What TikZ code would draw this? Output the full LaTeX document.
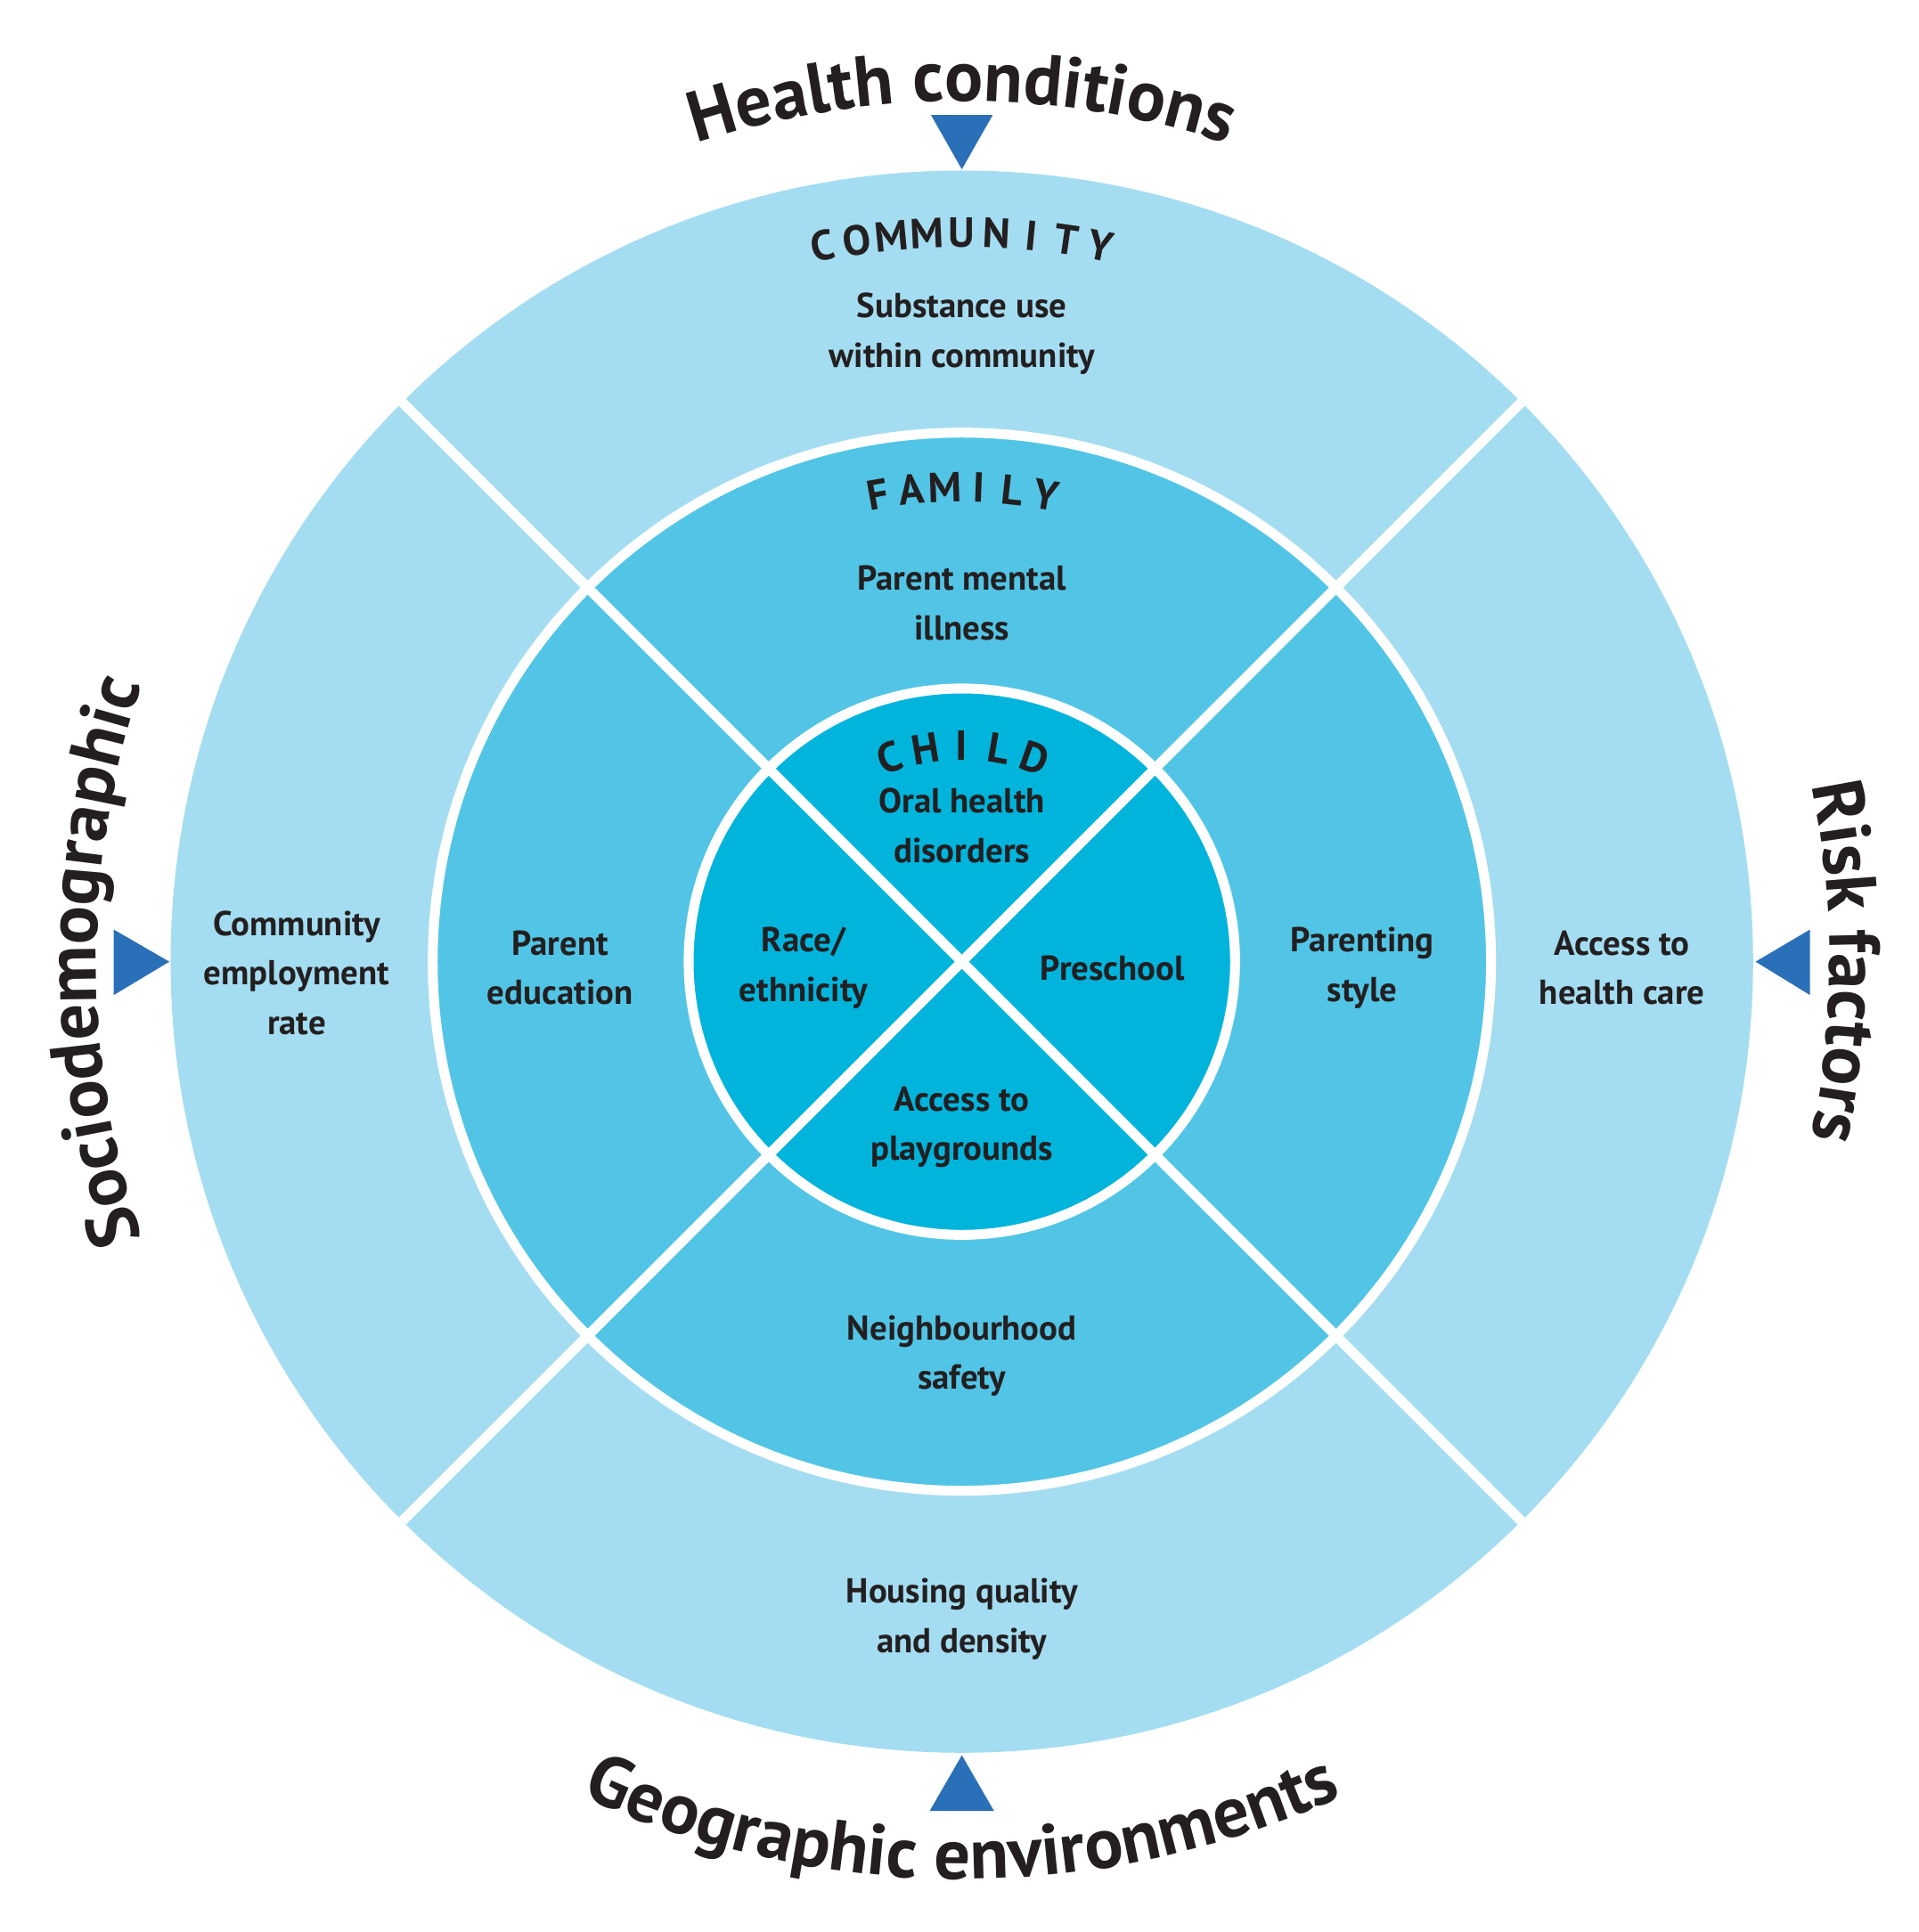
\documentclass[tikz,border=0pt]{standalone}
\usepackage{fontspec}
\setmainfont{PT Sans}
\usetikzlibrary{decorations.text}
\definecolor{outerc}{HTML}{A4DDF1}
\definecolor{famc}{HTML}{52C5E6}
\definecolor{childc}{HTML}{00B4DC}
\definecolor{tric}{HTML}{2A70B8}
\definecolor{txt}{HTML}{231F20}
\tikzset{
  lbl/.style={align=center,text=txt,font=\fontsize{28}{40}\selectfont\bfseries},
  ring/.style={draw=white,line width=8pt},
  tri/.style={fill=tric},
  ttl/.style={decorate,decoration={text along path,text align=center,text color=txt,
     text={|\fontsize{58}{60}\selectfont\bfseries|#1}}},
  lett/.style={text=txt,font=\fontsize{34}{40}\selectfont\bfseries,anchor=base,inner sep=0pt}
}
\begin{document}
\begin{tikzpicture}[x=1pt,y=1pt]
\useasboundingbox (-778,-785) rectangle (774,778);
\fill[outerc] (0,0) circle (640);
\fill[famc] (0,0) circle (428);
\fill[childc] (0,0) circle (221);
\foreach \a in {45,135,225,315} \draw[draw=white,line width=8pt] (0,0) -- (\a:640);
\draw[ring] (0,0) circle (428);
\draw[ring] (0,0) circle (221);
% triangles
\fill[tri] (-25,685) -- (25,685) -- (0,641) -- cycle;
\fill[tri] (-686,26) -- (-686,-27) -- (-641,0) -- cycle;
\fill[tri] (686,26) -- (686,-27) -- (642,0) -- cycle;
\fill[tri] (-26,-687) -- (26,-687) -- (0,-642) -- cycle;
% titles
\path[ttl={Health conditions}] (160:696) arc (160:20:696);
\path[ttl={Geographic environments}] (200:742) arc (200:340:742);
\path[ttl={Sociodemographic}] (210:700) arc (210:150:700);
\path[ttl={Risk factors}] (30:702) arc (30:-30:702);
% ring titles
\foreach \l [count=\i] in {C,O,M,M,U,N,I,T,Y} {
  \pgfmathsetmacro\a{90+(5-\i)*2.75}
  \node[lett,rotate=\a-90] at (\a:578) {\l};}
\foreach \l [count=\i] in {F,A,M,I,L,Y} {
  \pgfmathsetmacro\a{90+(3.5-\i)*4.1}
  \node[lett,rotate=\a-90] at (\a:372) {\l};}
\foreach \l [count=\i] in {C,H,I,L,D} {
  \pgfmathsetmacro\a{90+(3-\i)*9.8}
  \node[lett,rotate=\a-90] at (\a:163) {\l};}
% labels
\node[lbl] (sub) at (0,508) {Substance use\\within community};
\node[lbl] (pmi) at (0,290) {Parent mental\\illness};
\node[lbl] (ohd) at (0,110) {Oral health\\disorders};
\node[lbl] (race) at (-128,-5) {Race/\\ethnicity};
\node[lbl] (pre) at (122,-5) {Preschool};
\node[lbl] (play) at (0,-134) {Access to\\playgrounds};
\node[lbl] (ped) at (-325,-5) {Parent\\education};
\node[lbl] (pst) at (324,-5) {Parenting\\style};
\node[lbl] (nbh) at (0,-319) {Neighbourhood\\safety};
\node[lbl] (cer) at (-538,-9) {Community\\employment\\rate};
\node[lbl] (ahc) at (534,-5) {Access to\\health care};
\node[lbl] (hqd) at (0,-532) {Housing quality\\and density};
\end{tikzpicture}
\end{document}
